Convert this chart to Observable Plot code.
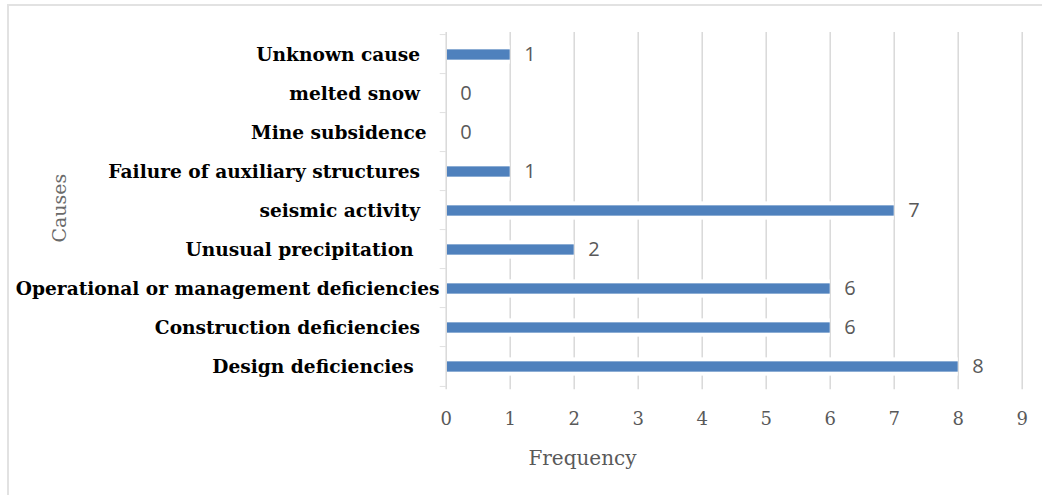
<!DOCTYPE html>
<html>
<head>
<meta charset="utf-8">
<script src="https://cdn.jsdelivr.net/npm/d3@7"></script>
<script src="https://cdn.jsdelivr.net/npm/@observablehq/plot@0.6"></script>
<style>
  html, body { margin: 0; padding: 0; background: #fff; overflow: hidden; }
  #wrap { position: relative; width: 1042px; height: 495px; }
  #chart { position: absolute; left: 0; top: 0; }
  #border { position: absolute; left: 7px; top: 4px; width: 1100px; height: 600px;
            border: 2px solid #e2e2e2; box-sizing: border-box; pointer-events: none; }
</style>
</head>
<body>
<div id="wrap"><div id="chart"></div><div id="border"></div></div>
<script>
// Causes of failure, listed top to bottom (labels keep their trailing spaces)
const causes = [
  "Unknown cause   ",
  "melted snow   ",
  "Mine subsidence  ",
  "Failure of auxiliary structures   ",
  "seismic activity   ",
  "Unusual precipitation    ",
  "Operational or management deficiencies",
  "Construction deficiencies   ",
  "Design deficiencies    "
];
// Number of cases for each cause
const frequency = [1, 0, 0, 1, 7, 2, 6, 6, 8];
// Frequency axis ticks
const xTicks = [0, 1, 2, 3, 4, 5, 6, 7, 8, 9];

const rows = causes.map((cause, i) => ({cause, value: frequency[i]}));

const serif = "'DejaVu Serif', serif";
const band = (495 - 32 - 105.7) / causes.length;
const barH = 11;
const inset = (band - barH) / 2;

const chart = Plot.plot({
  width: 1042,
  height: 495,
  marginLeft: 445.7,
  marginRight: 20.3,
  marginTop: 32,
  marginBottom: 105.7,
  style: {fontFamily: serif, background: "transparent", whiteSpace: "pre"},
  x: {domain: [0, 9], ticks: xTicks},
  y: {domain: causes, padding: 0},
  marks: [
    // vertical gridlines
    Plot.ruleX(xTicks.filter(d => d > 0), {stroke: "#d9d9d9", strokeWidth: 1.5}),
    // white halo that interrupts the gridlines around each bar
    Plot.barX(rows, {x: "value", y: "cause", fill: "white", insetTop: inset - 4, insetBottom: inset - 4}),
    // bars
    Plot.barX(rows, {x: "value", y: "cause", fill: "#4f81bd", insetTop: inset, insetBottom: inset, insetLeft: 1}),
    // category axis line
    Plot.ruleX([0], {stroke: "#d9d9d9", strokeWidth: 1.5}),
    // category boundary ticks (top of each band, plus the bottom of the last one)
    Plot.barX(rows, {x1: 0, x2: 0, y: "cause", fill: "#d9d9d9", insetLeft: -6, insetTop: -0.75, insetBottom: band - 0.75}),
    Plot.barX(rows.slice(-1), {x1: 0, x2: 0, y: "cause", fill: "#d9d9d9", insetLeft: -6, insetTop: band - 0.75, insetBottom: -0.75}),
    // value labels
    Plot.text(rows, {x: "value", y: "cause", text: d => String(d.value), textAnchor: "start", dx: 14,
      fontFamily: "'Open Sans', sans-serif", fontSize: 20, fill: "#595959"}),
    Plot.axisX({ticks: xTicks, tickSize: 0, tickPadding: 22, fontSize: 18, color: "#595959", label: null}),
    Plot.axisY({tickSize: 0, tickPadding: 6.7, fontSize: 18.6, fontWeight: "bold", color: "black", label: null}),
    // axis titles
    Plot.text(["Frequency"], {frameAnchor: "bottom-left", textAnchor: "middle", dx: 136.3, dy: 75, text: d => d,
      fontSize: 20, fill: "#595959"}),
    Plot.text(["Causes"], {frameAnchor: "left", textAnchor: "middle", rotate: -90, dx: -386.7, dy: -3, text: d => d,
      fontSize: 19, fill: "#6a6a6a"})
  ]
});
document.getElementById("chart").appendChild(chart);
</script>
</body>
</html>
